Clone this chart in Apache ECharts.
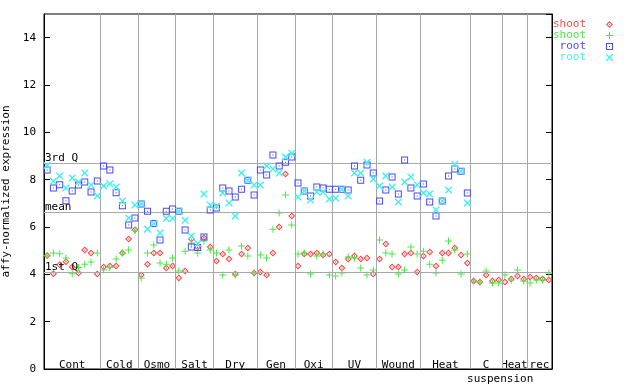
<!DOCTYPE html>
<html><head><meta charset="utf-8">
<script src="https://cdn.jsdelivr.net/npm/echarts@6/dist/echarts.min.js"></script>
<style>html,body{margin:0;padding:0;background:#fff}#c{width:640px;height:384px}</style>
</head><body><div id="c"></div>
<script>
// ---- data ----
const groupNames = ['Cont','Cold','Osmo','Salt','Dry','Gen','Oxi','UV','Wound','Heat','C\nsuspension','Heat','rec'];
const groupSizes = [9,6,6,6,7,6,6,7,7,8,5,4,4];
const yTicks = [0,2,4,6,8,10,12,14];
const refNames = ['3rd Q','mean','1st Q'];
const refValues = [8.70, 6.63, 4.10];
const seriesNames = ['shoot','shoot','root','root'];

const shootRep1 = [
 4.80,4.02,4.40,4.53,4.31,4.06,5.03,4.90,4.01,
 4.31,4.35,4.35,4.90,5.49,5.88,
 3.97,4.43,4.90,4.90,4.27,4.35,
 3.84,4.14,5.49,5.15,5.55,5.15,
 4.56,4.86,4.65,4.01,4.86,5.11,4.06,
 4.10,3.97,4.90,6.00,8.24,6.46,
 4.35,4.86,4.86,4.90,4.82,4.86,
 4.52,4.27,4.65,4.77,4.65,4.69,4.01,
 4.65,5.28,4.31,4.31,4.86,4.90,4.10,
 4.77,4.94,4.35,4.90,4.90,5.11,4.82,4.48,
 3.72,3.68,3.97,3.72,3.76,
 3.68,3.80,3.93,3.80,
 3.89,3.85,3.80,3.76];
const shootRep2 = [
 4.78,4.90,4.87,4.69,4.02,4.29,4.43,4.52,4.90,
 4.18,4.29,4.65,4.90,5.03,5.85,
 3.85,4.90,5.24,4.48,4.43,4.69,
 4.14,4.98,5.32,4.90,5.41,5.03,
 4.90,3.97,5.03,3.97,5.20,4.77,4.06,
 4.82,4.69,5.91,6.59,7.35,6.08,
 4.86,4.90,4.01,4.77,4.86,3.97,
 3.93,4.06,4.73,4.69,4.27,3.97,4.18,
 5.45,4.90,4.86,4.01,4.18,5.15,4.86,
 4.98,4.43,4.06,4.60,5.41,5.03,4.01,4.86,
 3.72,3.68,4.14,3.63,3.63,
 3.97,3.76,4.18,3.72,
 3.63,3.76,3.76,4.06];
const rootRep1 = [
 8.41,7.65,7.79,7.11,7.52,7.77,7.90,7.48,7.94,
 8.58,8.41,7.45,6.90,6.08,6.38,
 6.97,6.67,6.15,5.45,6.67,6.76,
 6.67,5.87,5.15,5.13,5.58,6.72,
 6.80,7.65,7.52,7.27,7.60,7.98,7.35,
 8.41,8.20,9.04,8.58,8.74,8.96,
 7.86,7.52,7.31,7.69,7.65,7.60,
 7.60,7.60,7.56,8.58,7.98,8.62,8.28,
 7.10,7.56,8.11,7.39,8.83,7.65,7.31,
 7.82,7.06,6.46,7.10,8.15,8.45,8.36,7.44];
const rootRep2 = [
 8.60,7.93,8.15,7.65,8.07,7.90,8.28,7.77,7.32,
 7.73,7.83,7.69,7.10,6.38,6.93,
 6.97,5.91,6.15,5.75,6.36,6.36,
 6.67,6.29,5.62,5.30,7.39,6.93,
 6.89,7.44,7.01,6.46,8.28,7.98,7.77,
 7.77,8.58,8.45,8.28,8.96,9.12,
 7.27,7.52,7.14,7.48,7.48,7.18,
 7.22,7.60,7.31,8.28,8.28,8.74,8.03,
 7.73,8.15,7.69,7.06,7.90,8.11,7.77,
 7.44,7.39,6.72,7.10,7.56,8.65,8.36,7.01];

// ---- build ----
const FONT = 'DejaVu Sans Mono';
const nSlots = groupSizes.reduce((a,b)=>a+b,0);
const bounds = [0];
groupSizes.forEach(s => bounds.push(bounds[bounds.length-1] + s));
const toPts = arr => arr.map((v,i) => [i + 0.5, v]);

const colors = ['#ff4848','#44ee44','#4848ff','#44f0f0'];
const symbols = [
 'path://M3.5,0L7,3.5L3.5,7L0,3.5Z M3.5,1.5L1.5,3.5L3.5,5.5L5.5,3.5Z M3.5,2.8L4.2,3.5L3.5,4.2L2.8,3.5Z',
 'path://M3,0H4V3H7V4H4V7H3V4H0V3H3Z',
 'path://M0,0H7V7H0Z M1,1V6H6V1Z M3,3H4V4H3Z',
 'path://M0,0L1,0L3.5,2.5L6,0L7,0L7,1L4.5,3.5L7,6L7,7L6,7L3.5,4.5L1,7L0,7L0,6L2.5,3.5L0,1Z'
];
const datasets = [shootRep1, shootRep2, rootRep1, rootRep2];
const ids = ['shoot rep1','shoot rep2','root rep1','root rep2'];

const series = datasets.map((arr, k) => ({
  name: ids[k], type: 'scatter', data: toPts(arr),
  symbol: symbols[k], symbolSize: 7,
  itemStyle: {color: colors[k], opacity: 1},
  silent: true, z: 3 + k
}));

series[0].markLine = {
  silent: true, symbol: ['none','none'], animation: false,
  lineStyle: {color: '#a8a8a8', type: 'solid', width: 1},
  label: {show: true, position: 'insideStartTop', formatter: '{b}', distance: [1, 0],
          color: '#000', fontFamily: FONT, fontSize: 11, lineHeight: 10},
  data: refValues.map((v, j) => ({yAxis: v, name: refNames[j]}))
};
series[1].markLine = {
  silent: true, symbol: ['none','none'], animation: false,
  lineStyle: {color: '#a8a8a8', type: 'solid', width: 1},
  label: {show: false},
  data: bounds.slice(1, -1).map(b => ({xAxis: b}))
};
series[2].markArea = {
  silent: true, animation: false,
  itemStyle: {color: 'rgba(0,0,0,0)'},
  label: {show: true, position: 'insideBottom', distance: -3, color: '#000',
          fontFamily: FONT, fontSize: 11, lineHeight: 13},
  data: groupNames.map((g, j) => {
    const parts = g.split('\n');
    const item = {xAxis: bounds[j], yAxis: 0, name: g};
    if (parts.length > 1) {
      item.label = {
        formatter: '{a|' + parts[0] + '}\n{b|' + parts[1] + '}',
        offset: [0, 15],
        rich: {
          a: {fontFamily: FONT, fontSize: 11, lineHeight: 13, color: '#000'},
          b: {fontFamily: FONT, fontSize: 11, lineHeight: 15, color: '#000', padding: [0, 0, 0, 28]}
        }
      };
    }
    return [item, {xAxis: bounds[j+1], yAxis: 15}];
  })
};

const chart = echarts.init(document.getElementById('c'), null, {renderer: 'canvas'});
chart.setOption({
  animation: false,
  backgroundColor: '#fff',
  grid: {left: 44, right: 88, top: 14, bottom: 15, containLabel: false, outerBoundsMode: 'none',
         show: true, borderColor: '#000', borderWidth: 1, backgroundColor: 'transparent'},
  legend: {
    orient: 'vertical', right: 27, top: 19, padding: 0, itemGap: 0,
    align: 'right', itemWidth: 7, itemHeight: 7, selectedMode: false,
    formatter: name => name.split(' ')[0],
    textStyle: {fontFamily: FONT, fontSize: 11, lineHeight: 10, padding: [0, 15, 0, 0]},
    data: ids.map((n, k) => ({name: n, textStyle: {color: colors[k]}}))
  },
  xAxis: {type: 'value', min: 0, max: nSlots,
    axisLine: {show: true, lineStyle: {color: '#000'}}, axisTick: {show: false},
    axisLabel: {show: false}, splitLine: {show: false}},
  yAxis: [
    {type: 'value', min: 0, max: 15, interval: 2,
     name: 'affy-normalized expression', nameLocation: 'middle', nameGap: 29,
     nameTextStyle: {fontFamily: FONT, fontSize: 11, color: '#000'},
     axisLine: {show: true, lineStyle: {color: '#000'}},
     axisTick: {show: true, inside: true, length: 6, lineStyle: {color: '#000'}},
     axisLabel: {show: true, margin: 8, color: '#000', fontFamily: FONT, fontSize: 11, showMaxLabel: false,
                 formatter: v => yTicks.indexOf(v) >= 0 ? String(v) : ''},
     splitLine: {show: false}},
    {type: 'value', min: 0, max: 15, interval: 2, position: 'right',
     axisLine: {show: true, lineStyle: {color: '#000'}},
     axisTick: {show: true, inside: true, length: 6, lineStyle: {color: '#000'}},
     axisLabel: {show: false}, splitLine: {show: false}}
  ],
  series: series
});
</script></body></html>
